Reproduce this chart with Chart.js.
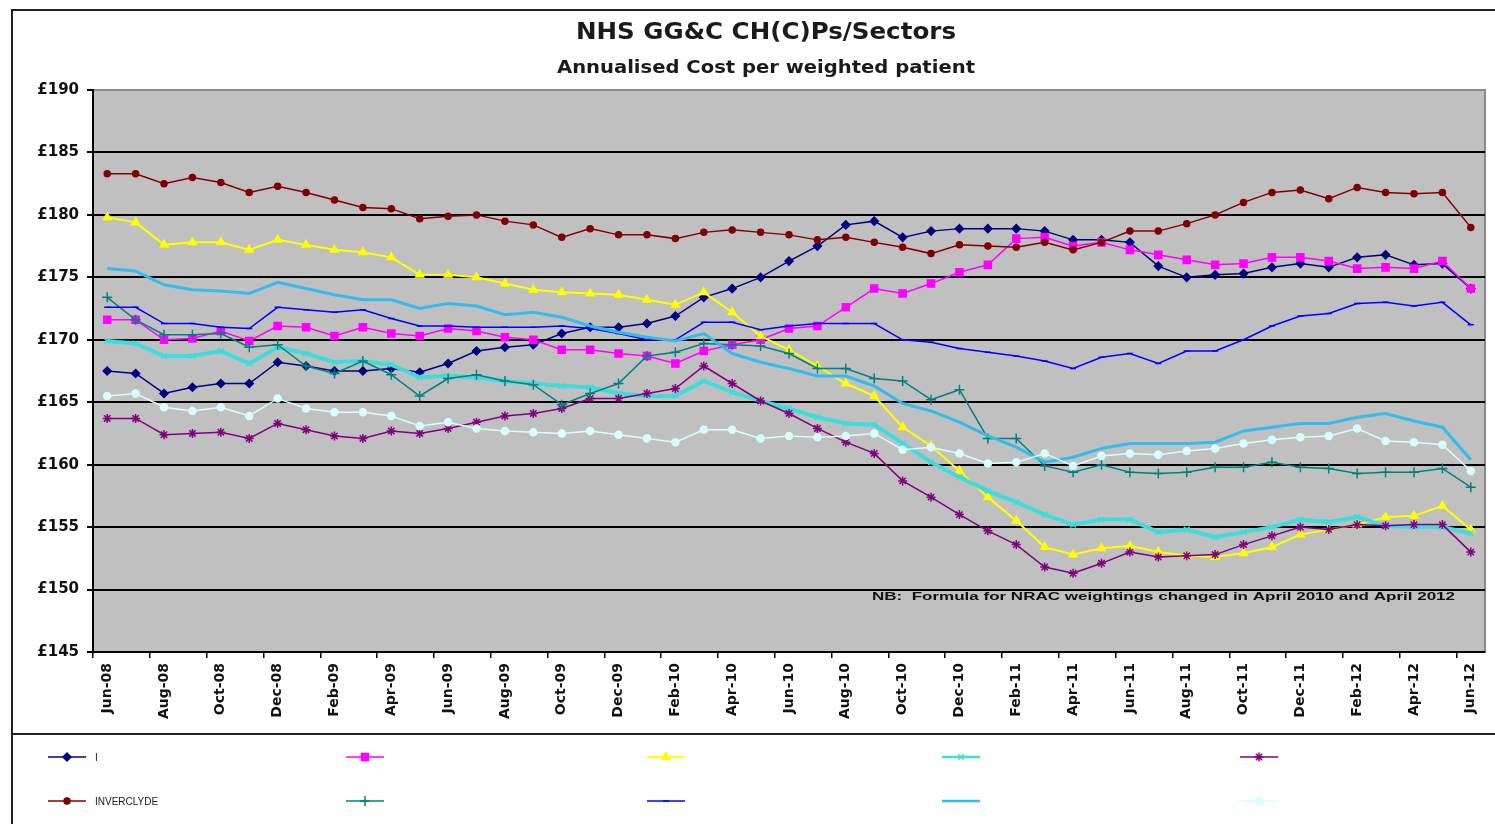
<!DOCTYPE html>
<html>
<head>
<meta charset="utf-8">
<script src="https://cdn.jsdelivr.net/npm/chart.js@4/dist/chart.umd.min.js"></script>
<style>
html,body{margin:0;padding:0;background:#fff;}
canvas{display:block;}
</style>
</head>
<body>
<canvas id="c" width="1495" height="824"></canvas>
<script>
const months = ['Jun-08','Jul-08','Aug-08','Sep-08','Oct-08','Nov-08','Dec-08','Jan-09','Feb-09','Mar-09','Apr-09','May-09',
'Jun-09','Jul-09','Aug-09','Sep-09','Oct-09','Nov-09','Dec-09','Jan-10','Feb-10','Mar-10','Apr-10','May-10',
'Jun-10','Jul-10','Aug-10','Sep-10','Oct-10','Nov-10','Dec-10','Jan-11','Feb-11','Mar-11','Apr-11','May-11',
'Jun-11','Jul-11','Aug-11','Sep-11','Oct-11','Nov-11','Dec-11','Jan-12','Feb-12','Mar-12','Apr-12','May-12','Jun-12'];

const yTicks = [145,150,155,160,165,170,175,180,185,190];

const seriesNames = ['I','','','','','INVERCLYDE','','','',''];

const navyI = [167.5,167.3,165.7,166.2,166.5,166.5,168.2,167.9,167.5,167.5,167.7,167.4,
168.1,169.1,169.4,169.6,170.5,171.0,171.0,171.3,171.9,173.4,174.1,175.0,
176.3,177.5,179.2,179.5,178.2,178.7,178.9,178.9,178.9,178.7,178.0,178.0,
177.8,175.9,175.0,175.2,175.3,175.8,176.1,175.8,176.6,176.8,176.0,176.1,174.1];

const magenta = [171.6,171.6,170.0,170.1,170.7,169.9,171.1,171.0,170.3,171.0,170.5,170.3,
170.9,170.7,170.2,170.0,169.2,169.2,168.9,168.7,168.1,169.1,169.6,170.0,
170.9,171.1,172.6,174.1,173.7,174.5,175.4,176.0,178.1,178.2,177.5,177.8,
177.2,176.8,176.4,176.0,176.1,176.6,176.6,176.3,175.7,175.8,175.7,176.3,174.1];

const yellow = [179.8,179.4,177.6,177.8,177.8,177.2,178.0,177.6,177.2,177.0,176.6,175.2,
175.2,175.0,174.5,174.0,173.8,173.7,173.6,173.2,172.8,173.8,172.2,170.3,
169.2,167.9,166.5,165.5,163.0,161.5,159.5,157.4,155.5,153.4,152.8,153.3,
153.5,153.0,152.7,152.6,152.9,153.4,154.4,154.8,155.2,155.8,155.9,156.7,154.8];

const cyan = [169.9,169.7,168.7,168.7,169.1,168.1,169.4,168.9,168.2,168.3,168.0,167.0,
167.1,167.0,166.7,166.5,166.3,166.2,165.7,165.5,165.5,166.7,165.8,165.1,
164.5,163.8,163.3,163.2,161.7,160.2,159.0,157.9,157.0,156.0,155.2,155.6,
155.6,154.6,154.8,154.2,154.6,155.0,155.6,155.4,155.8,155.1,155.0,155.0,154.5];

const purple = [163.7,163.7,162.4,162.5,162.6,162.1,163.3,162.8,162.3,162.1,162.7,162.5,
162.9,163.4,163.9,164.1,164.5,165.3,165.3,165.7,166.1,167.9,166.5,165.1,
164.1,162.9,161.8,160.9,158.7,157.4,156.0,154.7,153.6,151.8,151.3,152.1,
153.0,152.6,152.7,152.8,153.6,154.3,155.0,154.8,155.2,155.1,155.2,155.2,153.0];

const inverclyde = [183.3,183.3,182.5,183.0,182.6,181.8,182.3,181.8,181.2,180.6,180.5,179.7,
179.9,180.0,179.5,179.2,178.2,178.9,178.4,178.4,178.1,178.6,178.8,178.6,
178.4,178.0,178.2,177.8,177.4,176.9,177.6,177.5,177.4,177.8,177.2,177.8,
178.7,178.7,179.3,180.0,181.0,181.8,182.0,181.3,182.2,181.8,181.7,181.8,179.0];

const teal = [173.4,171.6,170.4,170.4,170.5,169.4,169.6,167.9,167.3,168.3,167.2,165.5,
166.9,167.2,166.7,166.4,164.8,165.7,166.5,168.7,169.0,169.7,169.6,169.5,
168.9,167.7,167.7,166.9,166.7,165.2,166.0,162.1,162.1,159.9,159.4,160.0,
159.4,159.3,159.4,159.8,159.8,160.2,159.8,159.7,159.3,159.4,159.4,159.7,158.2];

const blue = [172.6,172.6,171.3,171.3,171.0,170.9,172.6,172.4,172.2,172.4,171.7,171.1,
171.1,171.0,171.0,171.0,171.1,170.9,170.5,170.0,170.0,171.4,171.4,170.8,
171.1,171.3,171.3,171.3,170.0,169.8,169.3,169.0,168.7,168.3,167.7,168.6,
168.9,168.1,169.1,169.1,170.0,171.1,171.9,172.1,172.9,173.0,172.7,173.0,171.2];

const lightBlue = [175.7,175.5,174.4,174.0,173.9,173.7,174.6,174.1,173.6,173.2,173.2,172.5,
172.9,172.7,172.0,172.2,171.8,171.1,170.6,170.2,169.9,170.5,168.9,168.2,
167.7,167.1,167.1,166.3,164.9,164.3,163.4,162.3,161.4,160.2,160.6,161.3,
161.7,161.7,161.7,161.8,162.7,163.0,163.3,163.3,163.8,164.1,163.5,163.0,160.4];

const pale = [165.5,165.7,164.6,164.3,164.6,163.9,165.3,164.5,164.2,164.2,163.9,163.1,
163.4,162.9,162.7,162.6,162.5,162.7,162.4,162.1,161.8,162.8,162.8,162.1,
162.3,162.2,162.3,162.5,161.2,161.4,160.9,160.1,160.2,160.9,159.9,160.7,
160.9,160.8,161.1,161.3,161.7,162.0,162.2,162.3,162.9,161.9,161.8,161.6,159.5];

const seriesValues = [navyI, magenta, yellow, cyan, purple, inverclyde, teal, blue, lightBlue, pale];

const styles = [
  {color:'#000080', width:1.5, point:'rectRot', r:4},
  {color:'#FF00FF', width:1.5, point:'rect', r:5},
  {color:'#FFFF00', width:2, point:'triangle', r:4.5},
  {color:'#3EDCDC', width:4, point:'crossRot', r:4},
  {color:'#800080', width:1.5, point:'star', r:4.5},
  {color:'#800000', width:1.5, point:'circle', r:3},
  {color:'#008080', width:1.5, point:'cross', r:5},
  {color:'#0000FF', width:1.5, point:'line', r:3},
  {color:'#33BBEE', width:3, point:'circle', r:0},
  {color:'#D8FFFF', width:1.5, point:'circle', r:3.5}
];

const datasets = seriesValues.map((vals, i) => ({
  label: seriesNames[i],
  data: vals,
  borderColor: styles[i].color,
  backgroundColor: styles[i].color,
  pointBackgroundColor: styles[i].color,
  pointBorderColor: styles[i].color,
  borderWidth: styles[i].width,
  pointStyle: styles[i].point,
  pointRadius: styles[i].r,
  pointBorderWidth: 1.5,
  tension: 0,
  fill: false,
  order: seriesValues.length - i
}));

function drawStretched(ctx, text, x, y, font, targetWidth, align) {
  ctx.save();
  ctx.font = font;
  const w = ctx.measureText(text).width;
  const s = targetWidth / w;
  ctx.textBaseline = 'middle';
  ctx.textAlign = 'left';
  const left = align === 'center' ? x - targetWidth / 2 : x;
  ctx.translate(left, y);
  ctx.scale(s, 1);
  ctx.fillText(text, 0, 0);
  ctx.restore();
}

const framePlugin = {
  id: 'frame',
  beforeDraw(chart) {
    const ctx = chart.ctx;
    const a = chart.chartArea;
    ctx.save();
    ctx.fillStyle = '#fff';
    ctx.fillRect(0, 0, chart.width, chart.height);
    ctx.fillStyle = '#C0C0C0';
    ctx.fillRect(a.left, a.top, a.right - a.left, a.bottom - a.top);
    ctx.strokeStyle = '#8a8a8a';
    ctx.lineWidth = 2;
    ctx.beginPath();
    ctx.moveTo(a.left, a.top);
    ctx.lineTo(a.right, a.top);
    ctx.lineTo(a.right, a.bottom);
    ctx.stroke();
    ctx.strokeStyle = '#222';
    ctx.lineWidth = 2;
    ctx.strokeRect(12, 10, 1500, 830);
    ctx.beginPath();
    ctx.moveTo(12, 734);
    ctx.lineTo(1495, 734);
    ctx.stroke();
    ctx.restore();
  },
  afterDraw(chart) {
    const ctx = chart.ctx;
    ctx.save();
    ctx.fillStyle = '#1a1a1a';
    drawStretched(ctx, 'NHS GG&C CH(C)Ps/Sectors', 766, 33, 'bold 23px "DejaVu Sans"', 380, 'center');
    drawStretched(ctx, 'Annualised Cost per weighted patient', 766, 69, 'bold 17px "DejaVu Sans"', 418, 'center');
    ctx.fillStyle = '#111';
    drawStretched(ctx, 'NB:  Formula for NRAC weightings changed in April 2010 and April 2012', 872, 597, 'bold 11px "Liberation Sans"', 583, 'left');

    // legend
    const cols = [48, 346, 647, 942, 1240];
    const rows = [757, 801];
    chart.data.datasets.forEach((ds, i) => {
      const x0 = cols[i % 5], y = rows[Math.floor(i / 5)];
      ctx.save();
      ctx.strokeStyle = ds.borderColor;
      ctx.lineWidth = Math.min(ds.borderWidth, 2.5);
      ctx.beginPath();
      ctx.moveTo(x0, y);
      ctx.lineTo(x0 + 38, y);
      ctx.stroke();
      if (ds.pointRadius > 0 && Chart.helpers && Chart.helpers.drawPoint) {
        ctx.fillStyle = ds.pointBackgroundColor;
        ctx.strokeStyle = ds.pointBorderColor;
        ctx.lineWidth = ds.pointBorderWidth;
        Chart.helpers.drawPoint(ctx, {pointStyle: ds.pointStyle, radius: ds.pointRadius, borderWidth: ds.pointBorderWidth, rotation: 0}, x0 + 19, y);
      }
      if (ds.label) {
        ctx.fillStyle = '#222';
        ctx.font = '10px "Liberation Sans"';
        ctx.textBaseline = 'middle';
        ctx.textAlign = 'left';
        ctx.fillText(ds.label, x0 + 47, y + 1);
      }
      ctx.restore();
    });
    ctx.restore();
  }
};

new Chart(document.getElementById('c'), {
  type: 'line',
  data: { labels: months, datasets: datasets },
  plugins: [framePlugin],
  options: {
    responsive: false,
    devicePixelRatio: 1,
    animation: false,
    events: [],
    layout: { padding: { left: 13, right: 10, top: 90, bottom: 90 } },
    plugins: {
      legend: { display: false },
      title: { display: false },
      tooltip: { enabled: false }
    },
    scales: {
      x: {
        type: 'category',
        offset: true,
        afterFit(scale) { scale.height = 82; },
        grid: {
          offset: true,
          drawOnChartArea: false,
          drawTicks: true,
          tickLength: 6,
          lineWidth: 1.5,
          tickColor: (c) => (c.index !== undefined && c.index % 2 === 0) ? '#000' : 'rgba(0,0,0,0)'
        },
        border: { display: true, color: '#000', width: 2 },
        ticks: {
          autoSkip: false,
          minRotation: 90,
          maxRotation: 90,
          padding: 5,
          color: '#111',
          font: { family: 'DejaVu Sans', size: 14, weight: 'bold' },
          callback: (v, i) => (i % 2 === 0 ? months[i] : '')
        }
      },
      y: {
        min: yTicks[0],
        max: yTicks[yTicks.length - 1],
        afterFit(scale) { scale.width = 80; },
        afterBuildTicks(scale) { scale.ticks = yTicks.map(v => ({ value: v })); },
        grid: {
          color: (c) => (c.tick && c.tick.value === 190) ? 'rgba(0,0,0,0)' : '#000',
          lineWidth: 2,
          tickColor: '#000',
          tickLength: 6
        },
        border: { display: true, color: '#000', width: 2 },
        ticks: {
          padding: 8,
          color: '#111',
          font: { family: 'DejaVu Sans', size: 15, weight: 'bold' },
          callback: (v) => '£' + v
        }
      }
    }
  }
});
</script>
</body>
</html>
